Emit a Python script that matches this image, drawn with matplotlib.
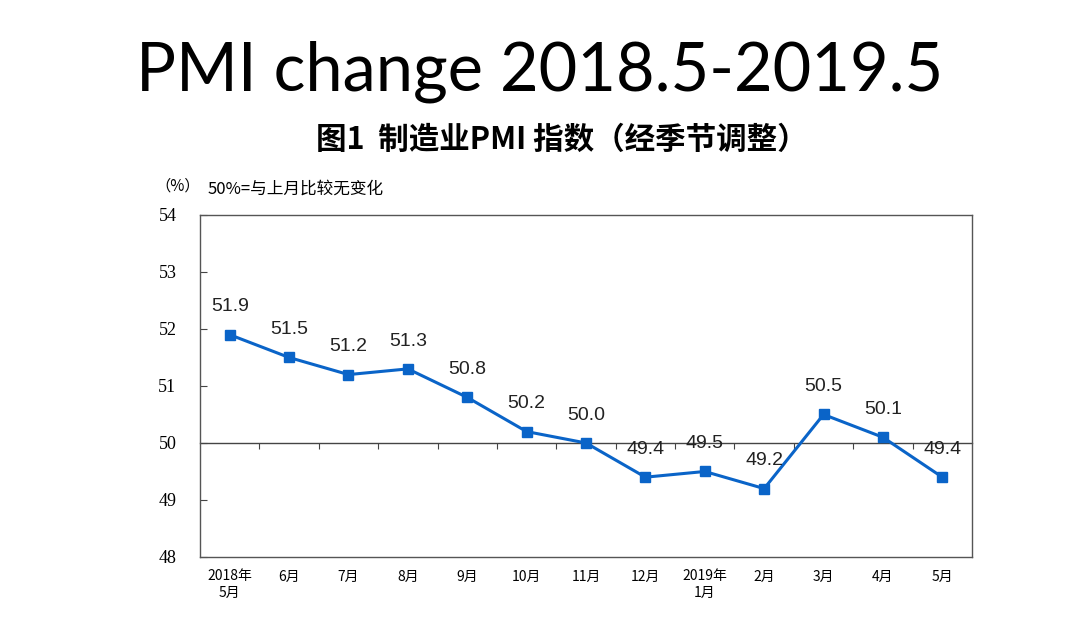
import matplotlib
matplotlib.use("Agg")
import matplotlib.pyplot as plt

plt.rcParams['font.family'] = ['Noto Sans CJK SC', 'DejaVu Sans']

# data
months = ["2018年\n5月", "6月", "7月", "8月", "9月", "10月", "11月",
          "12月", "2019年\n1月", "2月", "3月", "4月", "5月"]
pmi = [51.9, 51.5, 51.2, 51.3, 50.8, 50.2, 50.0, 49.4, 49.5, 49.2, 50.5, 50.1, 49.4]
y_ticks = [48, 49, 50, 51, 52, 53, 54]

line_color = "#0a64c8"

fig = plt.figure(figsize=(10.8, 6.29), dpi=100)
ax = fig.add_axes([0.1852, 0.1145, 0.7148, 0.5437])

x = list(range(len(pmi)))
ax.plot(x, pmi, color=line_color, lw=2.2, marker="s", markersize=7, zorder=3)

for xi, v in zip(x, pmi):
    ax.annotate(f"{v:.1f}", (xi, v), xytext=(0, 20), textcoords="offset points",
                ha="center", va="center", fontsize=14, color="#222222",
                family="Liberation Sans")

ax.set_xlim(-0.5, len(pmi) - 0.5)
ax.set_ylim(48, 54)
ax.set_yticks(y_ticks)
ax.set_yticklabels([str(t) for t in y_ticks], family="Liberation Serif", fontsize=13)
ax.tick_params(axis="y", direction="in", length=5, pad=17, color="#444444")

ax.set_xticks(x)
ax.set_xticklabels(months, fontsize=10, linespacing=1.2)
ax.tick_params(axis="x", length=0, pad=9)

for s in ax.spines.values():
    s.set_color("#555555")
    s.set_linewidth(1.0)

# category axis crossing at 50 with ticks between months
axis50 = ax.secondary_xaxis((50 - 48) / (54 - 48))
axis50.set_xticks([i + 0.5 for i in x[:-1]])
axis50.set_xticklabels([])
axis50.tick_params(direction="out", length=4, color="#444444")
axis50.spines["bottom"].set_color("#444444")
axis50.spines["bottom"].set_linewidth(1.0)

fig.text(0.5, 0.886, "PMI change 2018.5-2019.5", ha="center", va="center",
         fontsize=48, family="Lato")
fig.text(0.52, 0.777, "图1  制造业PMI 指数（经季节调整）", ha="center", va="center",
         fontsize=22, fontweight="bold")
fig.text(0.144, 0.704, "（%）", ha="left", va="center", fontsize=11)
fig.text(0.192, 0.699, "50%=与上月比较无变化", ha="left", va="center", fontsize=12)

fig.savefig("out.png", dpi=100)
